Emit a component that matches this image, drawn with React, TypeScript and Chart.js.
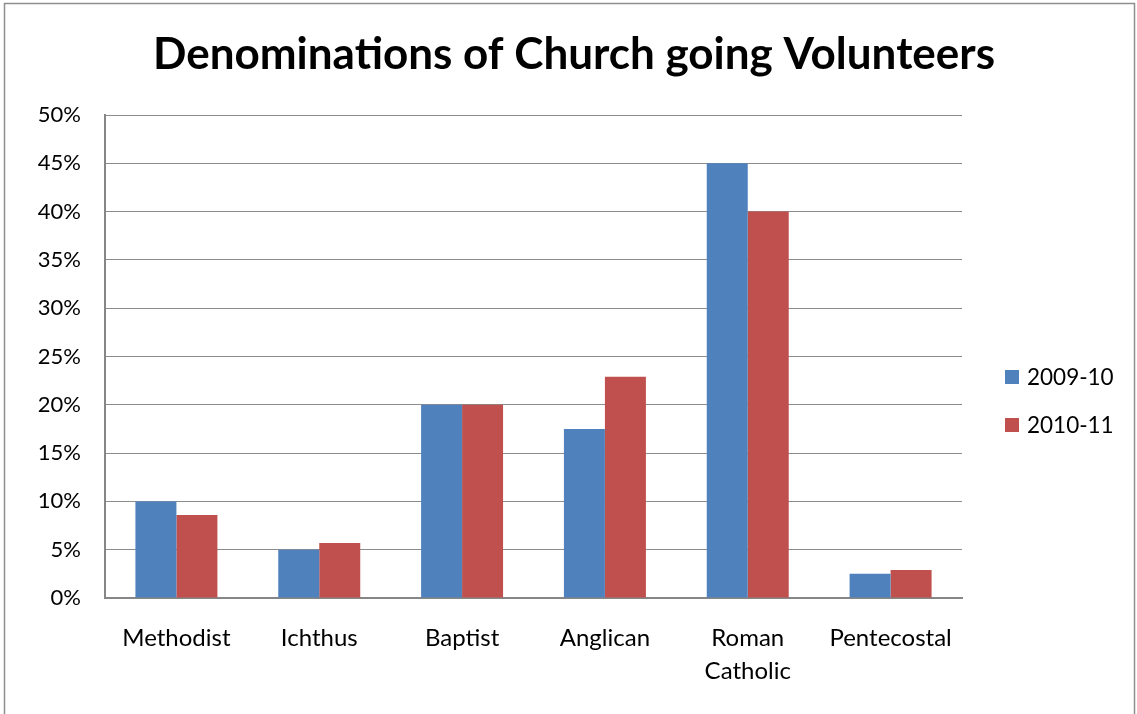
import React, { useEffect, useRef } from "react";
import { Chart, registerables } from "chart.js";

Chart.register(...registerables);

const categories: (string | string[])[] = [
  "Methodist",
  "Ichthus",
  "Baptist",
  "Anglican",
  ["Roman", "Catholic"],
  "Pentecostal",
];
const series2009 = [10, 5, 20, 17.5, 45, 2.5];
const series2010 = [8.6, 5.7, 20, 22.9, 40, 2.9];
const seriesNames = ["2009-10", "2010-11"];
const yTicks = [0, 5, 10, 15, 20, 25, 30, 35, 40, 45, 50];
const titleText = "Denominations of Church going Volunteers";

const FONT = "Lato, 'Open Sans', sans-serif";

export default function App() {
  const ref = useRef<HTMLCanvasElement>(null);

  useEffect(() => {
    if (!ref.current) return;
    const decor = {
      id: "decor",
      beforeDraw(chart: any) {
        const ctx = chart.ctx;
        ctx.save();
        ctx.fillStyle = "#ffffff";
        ctx.fillRect(0, 0, chart.width, chart.height);
        ctx.strokeStyle = "#8e8e8e";
        ctx.lineWidth = 1.5;
        ctx.strokeRect(4.5, 3.5, 1130, 730);
        ctx.restore();
      },
      afterDraw(chart: any) {
        const ctx = chart.ctx;
        ctx.save();
        ctx.fillStyle = "#000";
        ctx.font = `bold 44px ${FONT}`;
        ctx.textAlign = "center";
        ctx.textBaseline = "middle";
        ctx.fillText(titleText, 574, 55);
        ctx.font = `22.5px ${FONT}`;
        ctx.textAlign = "left";
        chart.data.datasets.forEach((ds: any, i: number) => {
          const cy = 377 + i * 48;
          ctx.fillStyle = ds.backgroundColor;
          ctx.fillRect(1005, cy - 7, 14, 14);
          ctx.fillStyle = "#000";
          ctx.fillText(ds.label, 1027, cy + 1);
        });
        ctx.restore();
      },
    };

    const chart = new Chart(ref.current, {
      type: "bar",
      data: {
        labels: categories,
        datasets: [
          {
            label: seriesNames[0],
            data: series2009,
            backgroundColor: "#4F81BD",
            borderColor: "#4F81BD",
            borderWidth: 0,
            categoryPercentage: 0.574,
            barPercentage: 1,
          },
          {
            label: seriesNames[1],
            data: series2010,
            backgroundColor: "#C0504D",
            borderColor: "#C0504D",
            borderWidth: 0,
            categoryPercentage: 0.574,
            barPercentage: 1,
          },
        ],
      },
      options: {
        animation: false,
        responsive: false,
        maintainAspectRatio: false,
        devicePixelRatio: 1,
        layout: { padding: { left: 0, right: 175, top: 115, bottom: 0 } },
        plugins: {
          legend: { display: false },
          title: { display: false },
          tooltip: { enabled: false },
        },
        scales: {
          x: {
            grid: { display: false, drawTicks: false },
            border: { color: "#868686", width: 2 },
            ticks: {
              color: "#000",
              font: { family: FONT, size: 24, lineHeight: 1.38 },
              padding: 24,
              maxRotation: 0,
              autoSkip: false,
            },
            afterFit(scale: any) {
              scale.height = 116;
            },
          },
          y: {
            min: 0,
            max: 50,
            afterBuildTicks(scale: any) {
              scale.ticks = yTicks.map((v) => ({ value: v }));
            },
            grid: { color: "#8c8c8c", lineWidth: 1, drawTicks: false },
            border: { color: "#868686", width: 2 },
            ticks: {
              color: "#000",
              font: { family: FONT, size: 22 },
              padding: 24,
              callback: (v: any) => `${v}%`,
            },
            afterFit(scale: any) {
              scale.width = 105;
            },
          },
        },
      },
      plugins: [decor],
    });
    return () => chart.destroy();
  }, []);

  return (
    <div style={{ position: "absolute", left: 0, top: 0, width: 1137, height: 714 }}>
      <canvas ref={ref} width={1137} height={714} style={{ display: "block" }} />
    </div>
  );
}
